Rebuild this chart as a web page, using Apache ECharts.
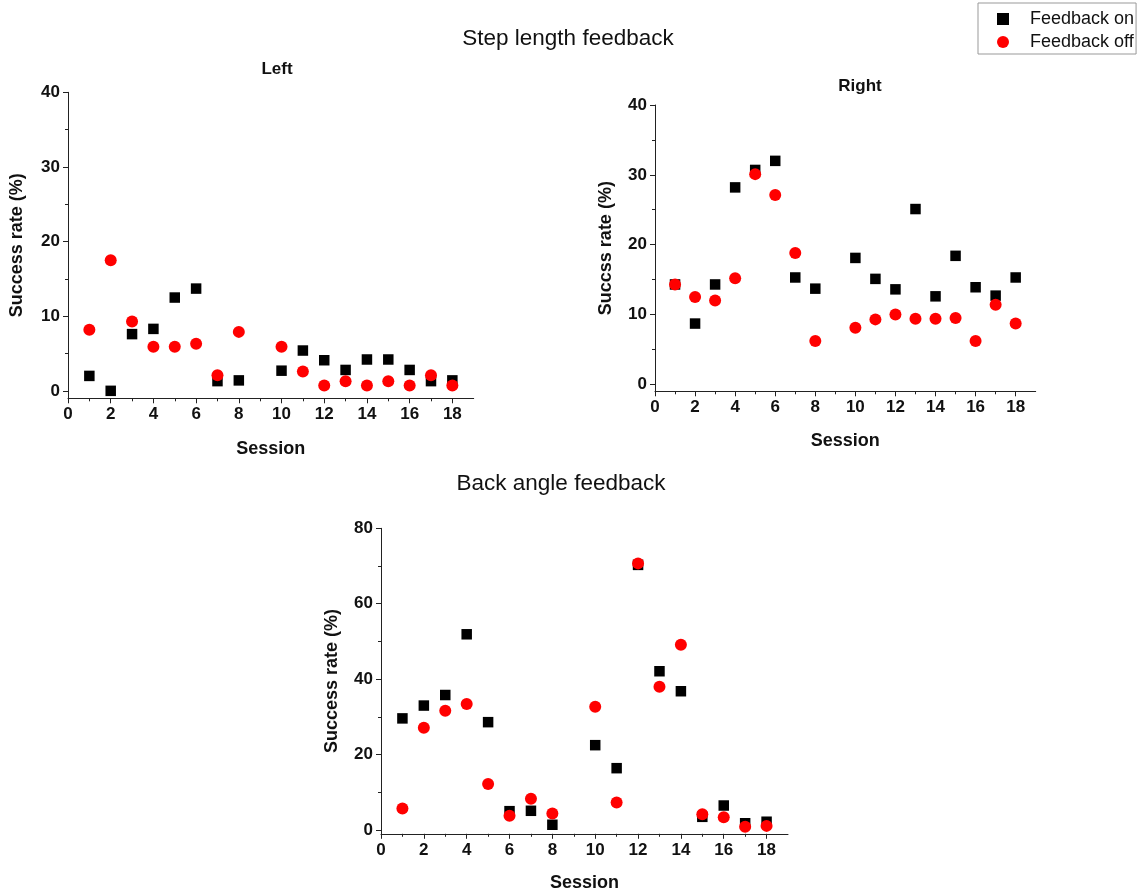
<!DOCTYPE html>
<html>
<head>
<meta charset="utf-8">
<script src="https://cdn.jsdelivr.net/npm/echarts@6/dist/echarts.min.js"></script>
<style>
  html, body { margin: 0; padding: 0; background: #fff; }
  #chart { width: 1146px; height: 895px; }
</style>
</head>
<body>
<div id="chart"></div>
<script>
// Training sessions (session 9 was not recorded)
const sessions = [1, 2, 3, 4, 5, 6, 7, 8, 10, 11, 12, 13, 14, 15, 16, 17, 18];

// Step length feedback, left leg (%)
const leftOn  = [2.0, 0.0, 7.6, 8.3, 12.5, 13.7, 1.3, 1.4, 2.7, 5.4, 4.1, 2.8, 4.2, 4.2, 2.8, 1.3, 1.4];
const leftOff = [8.2, 17.5, 9.3, 5.9, 5.9, 6.3, 2.1, 7.9, 5.9, 2.6, 0.7, 1.3, 0.7, 1.3, 0.7, 2.1, 0.7];

// Step length feedback, right leg (%)
const rightOn  = [14.3, 8.7, 14.3, 28.2, 30.7, 32.0, 15.3, 13.7, 18.1, 15.1, 13.6, 25.1, 12.6, 18.4, 13.9, 12.7, 15.3];
const rightOff = [14.3, 12.5, 12.0, 15.2, 30.1, 27.1, 18.8, 6.2, 8.1, 9.3, 10.0, 9.4, 9.4, 9.5, 6.2, 11.4, 8.7];

// Back angle feedback (%)
const backOn  = [29.6, 33.0, 35.8, 51.9, 28.6, 5.0, 5.1, 1.4, 22.5, 16.4, 70.3, 42.1, 36.8, 3.5, 6.5, 1.8, 2.2];
const backOff = [5.7, 27.1, 31.6, 33.4, 12.2, 3.8, 8.3, 4.4, 32.7, 7.3, 70.7, 38.0, 49.1, 4.2, 3.4, 0.9, 1.1];

// Tick values
const xMajorTicks = [0, 2, 4, 6, 8, 10, 12, 14, 16, 18];
const xMinorTicks = [1, 3, 5, 7, 9, 11, 13, 15, 17];
const stepMajorTicks = [0, 10, 20, 30, 40];
const stepMinorTicks = [5, 15, 25, 35];
const backMajorTicks = [0, 20, 40, 60, 80];
const backMinorTicks = [10, 30, 50, 70];

const seriesNames = ['Feedback on', 'Feedback off'];
const yNames = ['Success rate (%)', 'Succss rate (%)', 'Success rate (%)'];
const panelTitles = ['Left', 'Right'];
const groupTitles = ['Step length feedback', 'Back angle feedback'];

const FONT = '"Liberation Sans", Arial, Helvetica, sans-serif';
const AXIS_COLOR = '#222';
const TEXT_COLOR = '#111';

const grids = [
  { left: 68,  top: 92.3,  width: 405.7, height: 306 },
  { left: 655, top: 105,   width: 380.7, height: 286.3 },
  { left: 381, top: 528.3, width: 407,   height: 305.5 }
];

const yRanges = [
  { min: -1, max: 40, major: stepMajorTicks, minor: stepMinorTicks },
  { min: -1, max: 40, major: stepMajorTicks, minor: stepMinorTicks },
  { min: -1, max: 80, major: backMajorTicks, minor: backMinorTicks }
];

const nameGapsY = [42, 40, 40];
const nameGapsX = [42, 41, 40];

const xAxes = [];
const yAxes = [];
grids.forEach((g, i) => {
  // main x axis with labels and major ticks
  xAxes.push({
    type: 'value', gridIndex: i, min: 0, max: 19, position: 'bottom',
    name: 'Session', nameLocation: 'middle', nameGap: nameGapsX[i],
    nameTextStyle: { fontFamily: FONT, fontWeight: 'bold', fontSize: 18, color: TEXT_COLOR },
    axisLine: { show: true, onZero: false, lineStyle: { color: AXIS_COLOR, width: 1 } },
    axisTick: { show: true, length: 5, customValues: xMajorTicks, lineStyle: { color: AXIS_COLOR } },
    axisLabel: { customValues: xMajorTicks, margin: 8, fontFamily: FONT, fontWeight: 'bold', fontSize: 17, color: TEXT_COLOR },
    splitLine: { show: false }
  });
  // companion x axis carrying the minor ticks
  xAxes.push({
    type: 'value', gridIndex: i, min: 0, max: 19, position: 'bottom',
    axisLine: { show: false, onZero: false },
    axisTick: { show: true, length: 3, customValues: xMinorTicks, lineStyle: { color: AXIS_COLOR } },
    axisLabel: { show: false },
    splitLine: { show: false }
  });
  const r = yRanges[i];
  yAxes.push({
    type: 'value', gridIndex: i, min: r.min, max: r.max, position: 'left',
    name: yNames[i], nameLocation: 'middle', nameGap: nameGapsY[i], nameRotate: 90,
    nameTextStyle: { fontFamily: FONT, fontWeight: 'bold', fontSize: 18, color: TEXT_COLOR },
    axisLine: { show: true, onZero: false, lineStyle: { color: AXIS_COLOR, width: 1 } },
    axisTick: { show: true, length: 5, customValues: r.major, lineStyle: { color: AXIS_COLOR } },
    axisLabel: { customValues: r.major, margin: 8, fontFamily: FONT, fontWeight: 'bold', fontSize: 17, color: TEXT_COLOR },
    splitLine: { show: false }
  });
  yAxes.push({
    type: 'value', gridIndex: i, min: r.min, max: r.max, position: 'left',
    axisLine: { show: false, onZero: false },
    axisTick: { show: true, length: 3, customValues: r.minor, lineStyle: { color: AXIS_COLOR } },
    axisLabel: { show: false },
    splitLine: { show: false }
  });
});

const pairs = (vals) => sessions.map((s, k) => [s, vals[k]]);
const panelData = [[leftOn, leftOff], [rightOn, rightOff], [backOn, backOff]];

const series = [];
panelData.forEach((pd, i) => {
  series.push({
    name: seriesNames[0], type: 'scatter', xAxisIndex: i * 2, yAxisIndex: i * 2,
    symbol: 'rect', symbolSize: 10.5, itemStyle: { color: '#000', opacity: 1 }, z: 2,
    data: pairs(pd[0])
  });
  series.push({
    name: seriesNames[1], type: 'scatter', xAxisIndex: i * 2, yAxisIndex: i * 2,
    symbol: 'circle', symbolSize: 12, itemStyle: { color: '#ff0000', opacity: 1 }, z: 3,
    data: pairs(pd[1])
  });
});

const textEl = (text, x, y, size, weight) => ({
  type: 'text', x: x, y: y,
  style: { text: text, fontFamily: FONT, fontSize: size, fontWeight: weight, fill: TEXT_COLOR, align: 'center', verticalAlign: 'middle' }
});

const chart = echarts.init(document.getElementById('chart'), null, { renderer: 'canvas' });
chart.setOption({
  animation: false,
  backgroundColor: '#fff',
  grid: grids.map(g => Object.assign({ containLabel: false }, g)),
  xAxis: xAxes,
  yAxis: yAxes,
  legend: {
    data: [
      { name: seriesNames[0], icon: 'rect' },
      { name: seriesNames[1], icon: 'circle' }
    ],
    orient: 'vertical',
    left: 978, top: 3,
    itemWidth: 12, itemHeight: 12, itemGap: 5,
    padding: [7, 2, 3, 19],
    borderColor: '#999', borderWidth: 1,
    selectedMode: false,
    textStyle: { fontFamily: FONT, fontSize: 18, color: TEXT_COLOR, lineHeight: 18, padding: [0, 0, 0, 16] }
  },
  graphic: [
    textEl(groupTitles[0], 568, 39, 22.5, 'normal'),
    textEl(groupTitles[1], 561, 484, 22.5, 'normal'),
    textEl(panelTitles[0], 277, 69, 17, 'bold'),
    textEl(panelTitles[1], 860, 86, 17, 'bold')
  ],
  series: series
});
</script>
</body>
</html>
